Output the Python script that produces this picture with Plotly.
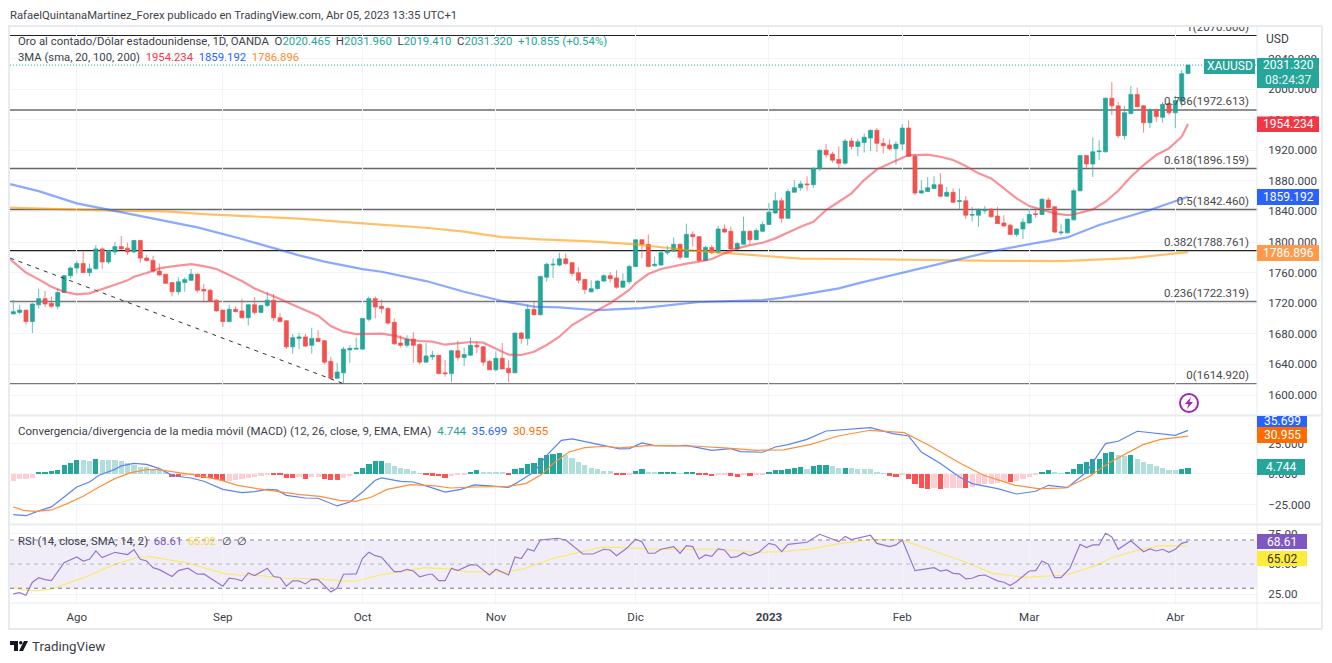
import plotly.graph_objects as go

# ---------- candles ----------
opens = [1706,1708,1711,1696,1718,1726,1720,1716,1734,1756,1766,1772,1760,1765,1791,1774,1787,1794,1792,1787,
1802,1779,1776,1762,1758,1747,1735,1747,1750,1758,1738,1737,1724,1711,1696,1712,1710,1701,1718,1708,
1717,1724,1701,1697,1663,1674,1676,1665,1674,1671,1644,1622,1629,1659,1660,1660,1699,1726,1716,1713,
1695,1668,1665,1673,1666,1643,1650,1652,1629,1628,1658,1649,1652,1665,1663,1644,1633,1648,1635,1629,
1681,1674,1712,1705,1754,1770,1770,1778,1773,1760,1751,
1735,1739,1749,1756,1753,1741,1748,1768,1803,1797,1769,1770,1786,1788,1797,1780,1810,1807,1776,1793,
1786,1817,1814,1791,1797,1814,1803,1814,1823,1838,1854,1831,1865,1871,1876,1875,1896,1920,1915,1908,
1903,1932,1925,1930,1936,1946,1929,1927,1922,1928,1949,1912,
1864,1866,1870,1875,1860,1865,1853,1854,1835,1835,1841,1843,1834,1825,1822,1810,1817,1825,1837,1836,
1855,1846,1812,1812,1829,1867,1913,1902,1918,1918,1988,1978,1939,1968,1993,1978,1956,1973,1963,1981,
1969,1984,2020.465]
highs = [1724,1718,1711,1720,1739,1736,1729,1739,1757,1768,1775,1787,1772,1796,1793,1790,1800,1808,1799,1803,
1803,1783,1782,1772,1758,1748,1754,1754,1765,1759,1745,1739,1725,1711,1718,1716,1726,1719,1728,1718,
1735,1732,1707,1698,1680,1681,1680,1688,1685,1672,1650,1642,1663,1665,1675,1701,1729,1729,1725,1715,
1700,1678,1678,1682,1668,1668,1658,1652,1646,1659,1671,1662,1675,1670,1664,1646,1657,1668,1646,1681,
1682,1718,1722,1756,1773,1779,1786,1785,1774,1767,1752,
1750,1750,1758,1761,1763,1759,1770,1803,1803,1810,1781,1790,1795,1806,1798,1824,1814,1808,1795,1796,
1821,1823,1820,1800,1833,1815,1818,1827,1851,1865,1858,1869,1881,1880,1886,1898,1921,1928,1918,1925,
1935,1936,1935,1942,1947,1949,1936,1934,1932,1954,1959,1915,
1881,1885,1886,1890,1872,1870,1870,1860,1846,1844,1847,1844,1846,1835,1824,1818,1831,1843,1842,1857,
1858,1847,1824,1830,1870,1914,1914,1937,1933,1989,2009,1983,1978,2004,2002,1979,1975,1974,1983,1983,
1991,2025,2031.96]
lows = [1706,1705,1692,1681,1713,1715,1714,1712,1733,1752,1759,1760,1755,1764,1765,1771,1783,1790,1783,1786,
1773,1774,1760,1756,1745,1729,1731,1735,1749,1734,1721,1722,1709,1689,1695,1708,1700,1691,1705,1707,
1715,1697,1695,1660,1654,1660,1663,1654,1670,1640,1621,1621,1615,1642,1660,1660,1696,1700,1707,1692,
1666,1662,1662,1642,1640,1643,1646,1627,1624,1617,1645,1638,1651,1655,1638,1633,1631,1634,1617,1629,
1667,1665,1704,1704,1748,1753,1768,1770,1755,1746,1732,
1734,1738,1748,1747,1739,1740,1745,1767,1779,1767,1768,1769,1783,1787,1777,1780,1794,1774,1775,1784,
1785,1812,1785,1790,1797,1797,1803,1813,1822,1837,1825,1831,1865,1867,1867,1871,1893,1910,1904,1896,
1901,1921,1912,1917,1919,1918,1916,1920,1901,1920,1912,1861,
1863,1866,1870,1859,1859,1851,1842,1830,1827,1820,1837,1832,1824,1820,1809,1807,1804,1824,1832,1835,
1844,1812,1809,1811,1828,1866,1895,1885,1907,1917,1966,1936,1934,1967,1977,1943,1949,1957,1956,1966,
1949,1977,2019.41]
closes = [1709,1711,1696,1719,1726,1719,1716,1734,1756,1766,1772,1760,1765,1791,1774,1789,1794,1791,1787,1802,
1779,1776,1762,1757,1746,1735,1748,1751,1758,1737,1736,1723,1710,1696,1712,1709,1701,1718,1708,1717,
1724,1701,1696,1663,1675,1676,1664,1674,1670,1643,1622,1630,1660,1661,1661,1700,1726,1715,1713,1694,
1667,1665,1673,1665,1643,1651,1652,1628,1628,1658,1649,1653,1665,1663,1643,1633,1648,1634,1629,1681,
1674,1712,1705,1755,1771,1771,1778,1772,1759,1750,1738,
1739,1749,1756,1752,1741,1749,1768,1803,1797,1768,1771,1786,1789,1797,1780,1810,1807,1776,1793,1786,
1817,1813,1791,1798,1814,1803,1815,1823,1839,1854,1831,1866,1871,1876,1875,1896,1920,1914,1907,1903,
1932,1925,1931,1937,1946,1929,1926,1922,1928,1949,1912,1864,
1867,1871,1875,1860,1865,1852,1854,1835,1836,1842,1842,1833,1824,1821,1810,1817,1826,1836,1836,1856,
1845,1813,1813,1830,1867,1913,1902,1918,1919,1988,1978,1939,1969,1993,1977,1956,1973,1964,1980,1969,
1985,2020,2031.32]
bars = list(range(len(closes)))

# ---------- moving averages (bar, value) ----------
sma20_x = [-0.5,2,4,6,8,10,12,14,16,18,19,21,23,25,27,28,30,32,34,36,38,40,42,44,46,48,50,52,54,56,58,60,62,64,66,68,70,72,74,76,78,80,82,84,86,88,90,91,92,94,96,97,98,100,102,104,106,108,110,112,114,116,118,120,122,124,126,128,130,132,134,136,138,140,141,142,144,146,148,150,152,154,156,158,160,162,164,166,167,168,170,172,174,176,178,180,182,184,185]
sma20_y = [1777.3,1760,1751.2,1741.6,1735,1731.6,1732.9,1738.1,1744.2,1749.9,1754.7,1759.5,1765.6,1768.2,1770.8,1771.2,1768.6,1764.7,1756.9,1749,1739.4,1732.9,1725.5,1718,1711.1,1703.7,1690.2,1682.8,1679.7,1680.2,1680.2,1677.6,1672.8,1670.6,1669.7,1665.8,1668,1669.3,1668.4,1661,1652.7,1652.3,1656.6,1665.4,1676.2,1691.5,1701.5,1706.8,1711,1720,1732,1737.3,1746,1758.2,1764.7,1768.6,1771.7,1774.3,1777.8,1785.2,1791.7,1796,1799.1,1804.8,1812.6,1820,1826.6,1841.8,1852.7,1863.6,1881,1895,1902.8,1909.4,1913.7,1913.7,1914.2,1911.5,1907.2,1899.3,1889.8,1883.2,1870.2,1857,1847,1841.8,1837.5,1835.3,1836,1838.3,1842.7,1852.7,1867,1885.4,1900.6,1913.7,1922.4,1937.7,1954.234]
sma100_x = [-0.5,4,10,16,23,29,36,42,45,49,55,58,65,71,77,82,86,91,92,99,108,118,121,124,127,130,133,136,140,143,149,155,166,171,179,185]
sma100_y = [1875.8,1866.6,1850.5,1840.9,1828.7,1819.2,1803.9,1789.5,1782.6,1774.3,1764.7,1761.2,1749,1735,1722.9,1715.5,1714.6,1711.5,1711,1713.7,1721.6,1724,1727,1731,1735,1739.4,1746,1752,1759,1765.2,1777,1789.5,1806,1822.2,1841.8,1859.192]
sma200_x = [-0.5,16,24,30,45,49,55,65,71,77,83,91,98,106,113,120,124,132,143,155,165,176,185]
sma200_y = [1844.9,1840.9,1840,1836.6,1830.5,1827.9,1824.4,1818.7,1813.5,1806.5,1803.5,1800.9,1797,1789.6,1785.2,1780.4,1778.2,1777.8,1776.5,1775.5,1775,1779,1786.896]

# ---------- Fibonacci retracement and trend line ----------
fib_ratios = ["1","0.786","0.618","0.5","0.382","0.236","0"]
fib_levels = [2070.0,1972.613,1896.159,1842.46,1788.761,1722.319,1614.92]
trend_x = [-0.5,52]
trend_y = [1779,1614.92]
last_price = 2031.32

# ---------- MACD ----------
macd_x = [0,2,4,6,8,10,12,13.5,16,17,19,21,23,25,27,28,30,33,36,38,40,41.5,43,46,48,51,53,55,57,58,61,63,65,68,70.5,72.6,75,78,79.5,82,84,86.3,88,92,95.5,97,99,101,104,106,110,113,114.5,118,120,122,125,128,131,135,138.5,141,143,146,149,151,155,158,161,163,166,169,172,174,177,180,183,185]
macd_y = [-33.3,-34.2,-30.3,-27,-18.9,-10.7,-6.6,-1.1,3.8,6.6,8.7,7.9,4.4,-1.1,-2.7,-3.3,-6,-12.6,-15.3,-14.5,-12.6,-13.1,-17.5,-19.7,-19.9,-26.2,-23,-14.8,-5.2,-3.3,-6,-6.6,-9.8,-14.8,-12.6,-9,-9.8,-10.9,-6.6,1.6,15.3,27.6,28.7,24,20.5,20.8,25.4,23.2,23,23.5,19.4,20.8,18.3,17.8,22.1,24,28.4,35.2,36.6,38,33.1,31.1,18,8.5,-2.5,-7.9,-12,-16.4,-14.2,-9.3,-11.2,1.6,24.9,26.8,35,33.6,31.7,35.699]
signal_x = [0,1.6,3.5,6,8.5,11,13.5,16,18.5,21,22.8,25.3,29,32.8,35.3,38.4,41.5,45.2,48.3,51.4,53.9,56.4,58.9,62.6,66.4,68.9,72.6,77.9,80.7,83.2,85,87.5,90,93.2,95.5,99.8,104.1,107.7,112,117,121.3,125.6,129.9,134.9,140.3,144.2,149.2,152.8,157.8,161.4,165.7,169.3,172.8,177.9,180.7,185]
signal_y = [-27,-29.8,-30.6,-29.5,-24.3,-18.3,-10.7,-3.8,1.1,3.6,3.6,1.6,-1.1,-5.2,-9.3,-12,-14.2,-16.9,-18.3,-21.6,-22.4,-18.9,-12.6,-8.7,-9.8,-11.5,-10.7,-10.1,-7.9,-0.5,8.5,18,21.6,22.7,21.3,23.2,23.2,22.7,21.3,19.4,19.7,24.3,31.1,35.8,33.9,23.5,8.5,-1.1,-9.3,-12,-11.5,-2.5,9.8,24,28.4,30.955]
hist = [-5.7,-4.4,-4.1,-3,1.1,1.6,2.7,3,7.1,9.3,11.2,11.1,10.7,12,11.5,11.2,11.1,10.4,9.3,7.7,5.8,5.7,4.4,3,1.1,-2.2,-2.7,-1.6,-0.6,-2.7,-3,-3.1,-4.4,-6,-5.5,-4.9,-4.4,-3.3,-2.5,-1.4,-0.5,-0.8,-0.9,-3.6,-3.7,-2.2,-3.8,-2.2,-2.1,-3.8,-5.2,-5.3,-3,-1.9,1.1,5.2,8.5,10.4,10.5,9,6.8,4.9,3.8,2.5,0.5,-1.1,-1.4,-1.7,-3.3,-1.9,-0.8,-0.3,1.6,3,1.6,1.1,1.0,0.9,-0.5,3.8,5.2,7.9,9.3,13,15.8,16.4,16.9,15.3,13.4,9.8,7.1,4.9,3.8,2.7,2.2,-0.3,
-1.2,-0.4,2.2,3.8,1.6,1.1,1.15,1.2,1.25,0.5,1.4,1.9,-1.1,-1.2,-1.9,-0.6,-0.5,-1.6,-2.2,-1.1,-1.4,-1.1,-0.5,1.1,3,3.1,4.4,5.2,5.5,4.4,6.6,7.4,7.7,6.3,4.9,5.2,4.6,4.4,4.1,3.8,1.6,0.3,-1.6,-2.2,-1.1,-3.8,-7.9,-11.2,-12,-11.9,-12,-11.9,-11.8,-11.5,-11.6,-10.4,-9.3,-8.5,-7.9,-7,-6.5,-6.6,-5.7,-3.8,-2.5,-1.1,1.6,3,1.6,0.3,1.4,4.4,8.5,9.8,12,12.6,17.3,18,15.3,14.8,15.3,12.6,9.8,7.9,6.3,4.9,3.3,3.2,4.4,4.744]

# ---------- RSI ----------
rsi_x = [0,1,2,3,4,5,6,7,8,10,11,12,13,14,16,18,19,20,21,22,23,25,26,27.5,29,30,33,34,35,36,37,38,40,41,42,43,44,45,46,47,48,50,51,52,54,55,56,57,58,60,61,62,63,64,65.5,66,67,68,69,70,72,73,75,76,78,79,80,81,82,83,85.7,87,89.7,91.3,93,94,95,96.6,98,99,100,101,102,104,105,106,107,108,109,110,111,112,113,114,115,116,117.4,119,120,121,122,125,127,130,131,132,135,136,138,139,140,142,145,146,147,148,149,150,151,152,153,155,156,157,158,160,161,162,163,164,165,166.4,168,169,170,171,172,173,174,176,178,179,180,181,182,183,184,185]
rsi_y = [25.3,26.4,24.2,35,38.8,37.2,36.3,43.8,51.2,55.9,52.6,54,60.9,55.4,59.8,57.9,62,54,52.6,47.1,45.4,39.7,44.6,46.6,41.6,41.9,31.7,38.3,37.7,36.1,42.7,40.5,46.6,39.7,38.9,31.7,36.1,36.1,33.6,37.4,37.2,27,30,41.6,41.9,54.8,59.8,57,55.7,43.8,43.8,45.7,44.3,39.4,41.6,41.6,36.3,36.3,46.6,44.6,49.6,49.3,41,45.7,41,55.9,54.6,62.6,60.9,70,71.4,70,58.4,58.4,62.3,61.7,57,63.1,70.6,68.6,59,59,62.3,64.5,59,65.3,64.5,54.3,57.6,56.5,62.6,61.7,55.4,56.2,59.5,57,59.8,67.2,65.9,60.3,66.4,68.1,74.7,68.6,73,70.3,73.9,67.2,64.5,65.9,70,44.6,47.1,44.3,45.2,42.4,41.9,37.7,38.3,40.5,41,36.1,35,32.2,35.6,44.3,44.6,52.6,49.9,38.8,38.8,46.6,66.4,63.7,65.9,65.9,75.5,72.5,62.3,69.4,60.3,62.6,60.9,62.3,59.8,62.3,67.2,68.61]
rsi_ma_x = [0,1.6,3.5,6,8.5,11.6,14.7,16.6,19.7,21.6,24.1,27.2,30.3,33.1,35.9,39,42.7,47.7,51.4,54,57.7,60.2,64.8,68.2,71.4,77.9,80.7,85,89.4,92.5,95.5,99.8,105.6,111.3,117,121.3,125.6,129.9,135.6,139.9,145.6,150,154.2,159.2,165.7,170,173.2,177.9,180.7,185]
rsi_ma_y = [30.8,28.6,27.8,29.2,34.1,39.7,47.1,50.7,55.7,56.2,54,51.2,46.6,42.4,40.8,40.5,38.3,38,36.3,35.8,41,43.2,47.1,46,43.8,43.5,46.6,54.8,60.3,63.9,63.9,62.6,62.3,62.3,59.8,60.3,62.6,66.7,70.6,70,59.8,51.5,42.4,39.1,41,47.9,55.7,62.6,65.3,65.02]
rsi_levels = [70,50,30]

# ---------- axis labels ----------
month_bars = [10,33,55,76,98,119,140,160,183]
month_labels = ["Ago","Sep","Oct","Nov","Dic","<b>2023</b>","Feb","Mar","Abr"]
price_ticks = [2040,2000,1960,1920,1880,1840,1800,1760,1720,1680,1640,1600]
macd_ticks = [25,0,-25]
rsi_ticks = [75,50,25]

W, H = 1332, 663
def px(x): return x / W
def py(y): return 1 - y / H

FONT = "Roboto"
TEAL, RED = "#26a69a", "#ef5350"
GRID = "#f2f4fa"
BORDER = "#e8eaf1"
TXT = "#3c3f4a"

fig = go.Figure()

fig.add_trace(go.Candlestick(
    x=bars, open=opens, high=highs, low=lows, close=closes, xaxis="x", yaxis="y",
    increasing=dict(line=dict(color="rgba(38,166,154,0.7)", width=1), fillcolor=TEAL),
    decreasing=dict(line=dict(color="rgba(239,83,80,0.7)", width=1), fillcolor=RED),
    whiskerwidth=0, hoverinfo="skip", showlegend=False))

def line(x, y, color, width=1.5, axis="y", dash=None, text=None):
    fig.add_trace(go.Scatter(x=x, y=y, mode="lines", xaxis="x", yaxis=axis,
                             line=dict(color=color, width=width, dash=dash),
                             hoverinfo="skip", showlegend=False))

line(trend_x, trend_y, "#333333", 1, dash="4px,5px")
line(sma200_x, sma200_y, "rgba(255,152,0,0.6)", 2.2)
line(sma100_x, sma100_y, "rgba(41,98,255,0.55)", 2.2)
line(sma20_x, sma20_y, "rgba(242,54,69,0.55)", 2.2)

# Fibonacci labels: clipped by the pane, like the reference's top one
fig.add_trace(go.Scatter(
    x=[194.6] * len(fib_levels), y=[v + 2.6 for v in fib_levels], mode="text",
    text=[f"{r}({v:.3f})" for r, v in zip(fib_ratios, fib_levels)],
    textposition="top left", textfont=dict(family=FONT, size=11.5, color="#4a4a4a"),
    cliponaxis=True, xaxis="x", yaxis="y", hoverinfo="skip", showlegend=False))

# MACD histogram, colours from the value and the previous value
hist_colors = []
for k, v in enumerate(hist):
    prev = hist[k - 1] if k else v
    if v >= 0:
        hist_colors.append(TEAL if v >= prev else "#b2dfdb")
    else:
        hist_colors.append("#ff5252" if v < prev else "#ffcdd2")
fig.add_trace(go.Bar(x=bars, y=hist, width=0.82, marker=dict(color=hist_colors, line_width=0),
                     xaxis="x", yaxis="y2", hoverinfo="skip", showlegend=False))
line(macd_x, macd_y, "#5b83f0", 1.2, axis="y2")
line(signal_x, signal_y, "#ff8f3a", 1.2, axis="y2")

line(rsi_ma_x, rsi_ma_y, "#fbe96a", 1.2, axis="y3")
line(rsi_x, rsi_y, "#9575cd", 1.2, axis="y3")

shapes = []
# RSI band and levels
shapes.append(dict(type="rect", xref="x domain", x0=0, x1=1, yref="y3", y0=rsi_levels[2], y1=rsi_levels[0],
                   fillcolor="rgba(126,87,194,0.11)", line_width=0, layer="below"))
for lv, col_ in zip(rsi_levels, ["#888b96", "#b4b6bd", "#777a85"]):
    shapes.append(dict(type="line", xref="x domain", x0=0, x1=1, yref="y3", y0=lv, y1=lv,
                       line=dict(color=col_, width=1, dash="4px,4px"), layer="above"))
# Fibonacci lines
fib_styles = [("#222222", 1.2), ("#222222", 1.2), ("#666666", 1.4), ("#666666", 1.4),
              ("#222222", 1.2), ("#777777", 1.4), ("#777777", 1.4)]
for lv, (col_, w) in zip(fib_levels, fib_styles):
    shapes.insert(1, dict(type="line", xref="x domain", x0=0, x1=1, yref="y", y0=lv, y1=lv,
                          line=dict(color=col_, width=w), layer="below"))
# Last price
shapes.append(dict(type="line", xref="x domain", x0=0, x1=1, yref="y", y0=last_price, y1=last_price,
                   line=dict(color=TEAL, width=1, dash="1px,2px"), layer="above"))

def frame(x0, y0, x1, y1, color=BORDER, w=1):
    shapes.append(dict(type="line", xref="paper", yref="paper", x0=px(x0), x1=px(x1), y0=py(y0), y1=py(y1),
                       line=dict(color=color, width=w), layer="above"))
frame(8, 26, 1322, 26, w=2); frame(8, 629, 1322, 629, w=2)
frame(9, 26, 9, 629, w=2); frame(1322, 26, 1322, 629, w=2)
frame(9, 415.5, 1322, 415.5, w=2); frame(9, 524.5, 1322, 524.5, w=2)
frame(9, 603, 1322, 603); frame(1257, 26, 1257, 629)

annotations = []
def label(x, y, text, size=12, color=TXT, anchor="left"):
    annotations.append(dict(x=px(x), y=py(y), xref="paper", yref="paper", text=text, showarrow=False,
                            xanchor=anchor, yanchor="middle", align=anchor, borderpad=0, borderwidth=0,
                            font=dict(family=FONT, size=size, color=color)))

def box(x0, y0, x1, y1, fill, text, color="#ffffff", size=12):
    shapes.append(dict(type="rect", xref="paper", yref="paper", x0=px(x0), x1=px(x1), y0=py(y0), y1=py(y1),
                       fillcolor=fill, line_width=0, layer="above"))
    if text:
        label((x0 + x1) / 2, (y0 + y1) / 2, text, size=size, color=color, anchor="center")

def col(c, t): return f'<span style="color:{c}">{t}</span>'

label(10, 15, "RafaelQuintanaMartinez_Forex publicado en TradingView.com, Abr 05, 2023 13:35 UTC+1", size=11.3)
g = "#26a69a"
label(18, 41, "Oro al contado/Dólar estadounidense, 1D, OANDA  O" + col(g, "2020.465") + "  H" + col(g, "2031.960")
      + "  L" + col(g, "2019.410") + "  C" + col(g, "2031.320") + "  " + col(g, "+10.855 (+0.54%)"), size=11.4)
label(18, 57, "3MA (sma, 20, 100, 200)  " + col("#f23645", "1954.234") + "  " + col("#2962ff", "1859.192")
      + "  " + col("#ff8a2b", "1786.896"), size=11.3)
label(18, 431, "Convergencia/divergencia de la media móvil (MACD) (12, 26, close, 9, EMA, EMA)  " + col(g, "4.744")
      + "  " + col("#2962ff", "35.699") + "  " + col("#ff6d00", "30.955"), size=11.5)
label(18, 541, "RSI (14, close, SMA, 14, 2)  " + col("#7e57c2", "68.61") + "  " + col("#f5dc3a", "65.02") + "  ∅  ∅", size=11.3)
label(1266, 39, "USD", size=12)

box(1204, 59, 1255, 74, TEAL, "XAUUSD")
box(1257, 58, 1319, 88, TEAL, "")
label(1288, 65.5, "2031.320", size=12, color="#ffffff", anchor="center")
label(1288, 80, "08:24:37", size=12, color="#e6f5f3", anchor="center")
box(1257, 116.5, 1319, 132, "#f23645", "1954.234")
box(1257, 189, 1319, 205, "#2962ff", "1859.192")
box(1257, 245, 1319, 261, "#ff9a4d", "1786.896")
box(1257, 416, 1307, 427, "#2962ff", "")
label(1282, 421, "35.699", size=12, color="#ffffff", anchor="center")
box(1257, 427, 1307, 443, "#ff6d00", "30.955")
box(1257, 459, 1305, 475, TEAL, "4.744")
box(1257, 534, 1307, 549, "#7e57c2", "68.61")
box(1257, 551, 1307, 566, "#ffeb3b", "65.02", color="#333333")

# Bolt badge
shapes.append(dict(type="circle", xref="paper", yref="paper", x0=px(1180), x1=px(1198), y0=py(394), y1=py(412),
                   line=dict(color="#9c27b0", width=2), fillcolor="#ffffff", layer="above"))
def path(points):
    return "M " + " L ".join(f"{px(a):.5f} {py(b):.5f}" for a, b in points) + " Z"
shapes.append(dict(type="path", xref="paper", yref="paper", line_width=0, fillcolor="#9c27b0", layer="above",
                   path=path([(1191, 397), (1185, 404), (1188.5, 404), (1187, 409), (1193, 402), (1189.5, 402)])))

# TradingView logo
shapes.append(dict(type="path", xref="paper", yref="paper", line_width=0, fillcolor="#131722", layer="above",
                   path=path([(10, 641), (18, 641), (18, 651), (14, 651), (14, 645), (10, 645)])))
shapes.append(dict(type="path", xref="paper", yref="paper", line_width=0, fillcolor="#131722", layer="above",
                   path=path([(24, 641), (28, 641), (23, 651), (19, 651)])))
shapes.append(dict(type="circle", xref="paper", yref="paper", x0=px(19), x1=px(22.5), y0=py(641), y1=py(644.5),
                   line_width=0, fillcolor="#131722", layer="above"))
label(32, 646, "TradingView", size=13.3, color="#3a3d46")

axis_font = dict(family=FONT, size=11.6, color=TXT)
def yaxis(dom_top, dom_bottom, rng, ticks, fmt, **kw):
    return dict(domain=[py(dom_bottom), py(dom_top)], range=rng, side="right", anchor="x", tickmode="array",
                tickvals=ticks, tickformat=fmt, showgrid=True, gridcolor=GRID, gridwidth=1, zeroline=False,
                showline=False, ticks="outside", ticklen=8, tickcolor="rgba(0,0,0,0)", tickfont=axis_font,
                fixedrange=True, **kw)

fig.update_layout(
    width=W, height=H, autosize=False, margin=dict(l=0, r=0, t=0, b=0),
    paper_bgcolor="#ffffff", plot_bgcolor="#ffffff", showlegend=False, hovermode=False, bargap=0,
    boxgap=0.2, boxgroupgap=0.2,
    xaxis=dict(domain=[px(10), px(1257)], range=[-0.52, 195.86], anchor="y3", tickmode="array",
               tickvals=month_bars, ticktext=month_labels, showgrid=True, gridcolor=GRID, zeroline=False,
               showline=False, ticks="outside", ticklen=3, tickcolor="rgba(0,0,0,0)", tickfont=axis_font,
               rangeslider=dict(visible=False), fixedrange=True),
    yaxis=yaxis(26, 415, [1573.9, 2082.4], price_ticks, ".3f"),
    yaxis2=yaxis(416, 524, [-41, 47.5], macd_ticks, ".3f"),
    yaxis3=yaxis(525, 603, [17.8, 82.4], rsi_ticks, ".2f"),
    shapes=shapes, annotations=annotations,
)

fig.write_html("out.html", config=dict(displayModeBar=False),
               post_script="document.body.style.margin='0';document.body.style.overflow='hidden';")
